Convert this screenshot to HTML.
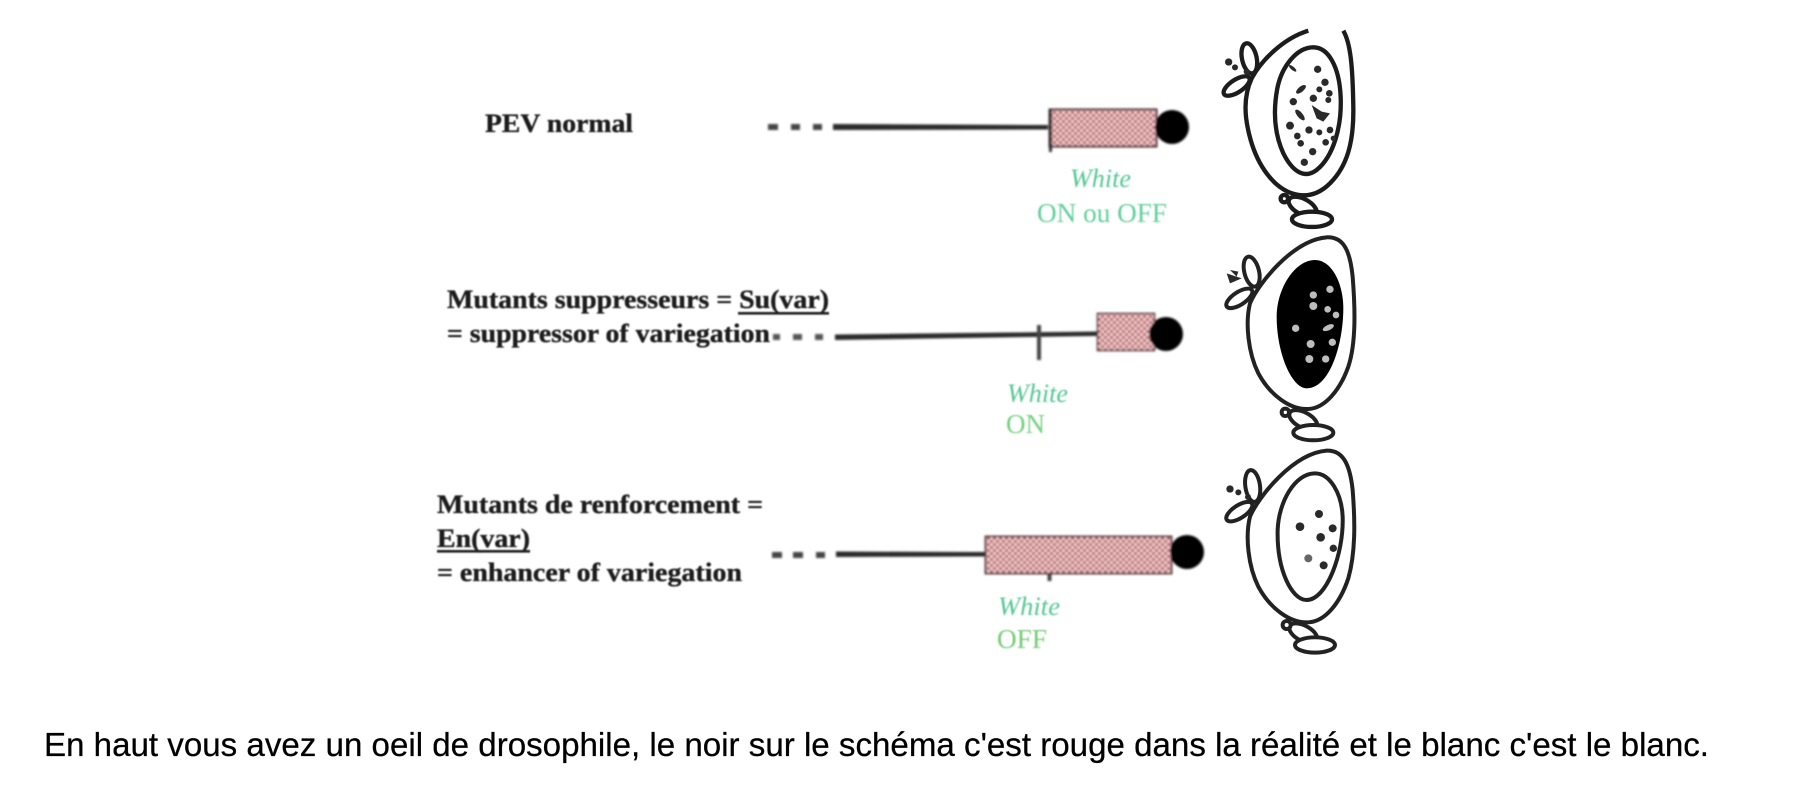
<!DOCTYPE html>
<html lang="fr">
<head>
<meta charset="utf-8">
<title>PEV</title>
<style>
html,body{margin:0;padding:0;background:#fff;width:1808px;height:790px;overflow:hidden}
svg{display:block}
.lab{font-family:"Liberation Serif",serif;font-weight:bold;font-size:26px;fill:#1c1c1c;stroke:#1c1c1c;stroke-width:.35px}
.w{font-family:"Liberation Serif",serif;font-style:italic;font-size:26px;fill:#55c795}
.st{font-family:"Liberation Serif",serif;font-size:27px}
.cap{font-family:"Liberation Sans",sans-serif;font-size:33px;fill:#000;stroke:#000;stroke-width:.25px}
</style>
</head>
<body>
<svg width="1808" height="790" viewBox="0 0 1808 790" xmlns="http://www.w3.org/2000/svg">
<defs>
<pattern id="chk" width="6" height="6" patternUnits="userSpaceOnUse">
<rect width="6" height="6" fill="#f6d6d6"/>
<rect width="3" height="3" fill="#b2555a"/>
<rect x="3" y="3" width="3" height="3" fill="#b2555a"/>
</pattern>
<filter id="b1" x="-5%" y="-5%" width="110%" height="110%"><feGaussianBlur stdDeviation="1.1"/></filter>
<filter id="b2" x="-5%" y="-20%" width="110%" height="140%"><feGaussianBlur stdDeviation="0.9"/></filter>
</defs>

<!-- Row 1 -->
<g filter="url(#b1)">
<g fill="#444"><rect x="768" y="124" width="10" height="6"/><rect x="791" y="124" width="9" height="6"/><rect x="813" y="124" width="9" height="6"/></g>
<path d="M833 124L1048 125V129.500L833 130Z" fill="#2c2c2c"/>
<rect x="1049.500" y="109.500" width="107" height="37" fill="url(#chk)" stroke="#4a2c2e" stroke-width="2"/>
<rect x="1049" y="109" width="3" height="43" fill="#333"/>
<circle cx="1172" cy="127" r="17" fill="#000"/>
</g>

<!-- Row 2 -->
<g filter="url(#b1)">
<g fill="#555"><rect x="773" y="334" width="7" height="6"/><rect x="793" y="334" width="9" height="6"/><rect x="815" y="334" width="8" height="6"/></g>
<path d="M835 334.500L1097 331.500V336L835 340Z" fill="#2c2c2c"/>
<rect x="1037" y="325" width="4" height="35" fill="#444"/>
<rect x="1097.500" y="313.500" width="57" height="37" fill="url(#chk)" stroke="#5a3a3c" stroke-width="1.600"/>
<circle cx="1166" cy="334" r="17" fill="#000"/>
</g>

<!-- Row 3 -->
<g filter="url(#b1)">
<g fill="#444"><rect x="772" y="552" width="10" height="6"/><rect x="793" y="552" width="10" height="6"/><rect x="816" y="552" width="9" height="6"/></g>
<path d="M836 551.500L985 552V556.500L836 557Z" fill="#2c2c2c"/>
<rect x="1047.500" y="573" width="4" height="8" fill="#444"/>
<rect x="985.500" y="536.500" width="186" height="37" fill="url(#chk)" stroke="#4a2c2e" stroke-width="1.800"/>
<circle cx="1187" cy="552" r="17" fill="#000"/>
</g>

<!-- Left labels -->
<g filter="url(#b2)">
<text class="lab" x="485" y="132" textLength="148" lengthAdjust="spacingAndGlyphs">PEV normal</text>
<text class="lab" x="447" y="308" textLength="382" lengthAdjust="spacingAndGlyphs">Mutants suppresseurs = Su(var)</text>
<rect x="738" y="312" width="91" height="2.600" fill="#1c1c1c"/>
<text class="lab" x="447" y="342" textLength="323" lengthAdjust="spacingAndGlyphs">= suppressor of variegation</text>
<text class="lab" x="437" y="513" textLength="326" lengthAdjust="spacingAndGlyphs">Mutants de renforcement =</text>
<text class="lab" x="437" y="547" textLength="93" lengthAdjust="spacingAndGlyphs">En(var)</text>
<rect x="437" y="550" width="93" height="2.600" fill="#1c1c1c"/>
<text class="lab" x="437" y="581" textLength="305" lengthAdjust="spacingAndGlyphs">= enhancer of variegation</text>
</g>

<!-- Green labels -->
<g filter="url(#b2)">
<text class="w" x="1070" y="187" textLength="61" lengthAdjust="spacingAndGlyphs">White</text>
<text class="st" x="1037" y="222" fill="#62d09c" textLength="130" lengthAdjust="spacingAndGlyphs">ON ou OFF</text>
<text class="w" x="1007" y="402" textLength="61" lengthAdjust="spacingAndGlyphs">White</text>
<text class="st" x="1006" y="433" fill="#74d180" textLength="39" lengthAdjust="spacingAndGlyphs">ON</text>
<text class="w" x="998" y="615" textLength="62" lengthAdjust="spacingAndGlyphs">White</text>
<text class="st" x="997" y="648" fill="#74cc76" textLength="50" lengthAdjust="spacingAndGlyphs">OFF</text>
</g>

<!-- Eye 1 -->
<g transform="translate(1180 10) scale(.3333)" filter="url(#b1)">
<g fill="none" stroke="#1e1e1e" stroke-width="13">
<path d="M490 62C512 100 518 170 520 290C522 400 500 470 450 520C415 555 375 565 330 548C280 528 235 470 212 390C192 320 190 260 215 205C245 150 310 85 385 62"/>
<path d="M400 112C445 112 478 170 482 260C486 350 460 440 410 480C370 510 335 480 310 430C285 375 278 310 292 235C305 170 350 112 400 112Z"/>
<ellipse cx="208" cy="145" rx="22" ry="46" transform="rotate(-12 208 145)" fill="#fff"/>
<ellipse cx="170" cy="228" rx="45" ry="19" transform="rotate(-33 170 228)" fill="#fff"/>
<ellipse cx="368" cy="590" rx="46" ry="23" transform="rotate(28 368 590)" fill="#fff"/>
<ellipse cx="396" cy="628" rx="60" ry="23" fill="#fff"/>
<circle cx="313" cy="566" r="11" fill="#fff"/>
</g>
<g fill="#2a2a2a">
<circle cx="146" cy="156" r="11"/><circle cx="165" cy="172" r="9"/><circle cx="200" cy="185" r="9"/>
<circle cx="413" cy="178" r="11"/><circle cx="435" cy="217" r="11"/><ellipse cx="363" cy="238" rx="18" ry="8" transform="rotate(-40 363 238)"/>
<circle cx="418" cy="238" r="9"/><circle cx="448" cy="250" r="10"/><circle cx="445" cy="270" r="9"/><circle cx="400" cy="265" r="11"/>
<circle cx="340" cy="275" r="11"/><ellipse cx="360" cy="315" rx="20" ry="8" transform="rotate(50 360 315)"/>
<path d="M395 285L425 305L450 310L430 335L410 325Z"/>
<circle cx="330" cy="347" r="12"/><circle cx="387" cy="360" r="11"/><circle cx="418" cy="367" r="9"/><circle cx="450" cy="360" r="10"/>
<circle cx="352" cy="378" r="10"/><circle cx="362" cy="400" r="10"/><circle cx="437" cy="397" r="10"/><circle cx="460" cy="385" r="8"/>
<circle cx="398" cy="425" r="11"/><circle cx="373" cy="457" r="11"/><ellipse cx="338" cy="175" rx="14" ry="5" transform="rotate(40 338 175)"/>
</g>
</g>

<!-- Eye 2 -->
<g transform="translate(1180 220) scale(.3333)" filter="url(#b1)">
<g fill="none" stroke="#222" stroke-width="12">
<path d="M440 52C490 50 510 90 518 170C526 270 528 370 505 440C480 510 435 565 385 567C330 570 270 525 235 460C205 400 195 310 210 250C235 190 340 60 440 52Z"/>
<ellipse cx="215" cy="155" rx="22" ry="46" transform="rotate(-14 215 155)" fill="#fff"/>
<ellipse cx="178" cy="235" rx="45" ry="19" transform="rotate(-33 178 235)" fill="#fff"/>
<ellipse cx="370" cy="600" rx="46" ry="23" transform="rotate(28 370 600)" fill="#fff"/>
<ellipse cx="400" cy="638" rx="60" ry="23" fill="#fff"/>
<circle cx="316" cy="577" r="11" fill="#fff"/>
</g>
<path d="M405 120C455 120 490 190 490 265C490 370 450 505 380 505C335 505 290 400 290 290C290 205 345 120 405 120Z" fill="#000"/>
<g fill="#bdbdbd">
<circle cx="450" cy="208" r="11"/><circle cx="400" cy="225" r="11"/><circle cx="400" cy="258" r="12"/><circle cx="443" cy="268" r="10"/>
<circle cx="468" cy="285" r="10"/><ellipse cx="445" cy="323" rx="18" ry="8" transform="rotate(-25 445 323)"/><circle cx="347" cy="325" r="11"/>
<circle cx="392" cy="372" r="12"/><circle cx="457" cy="367" r="11"/><circle cx="388" cy="417" r="12"/><circle cx="437" cy="417" r="11"/>
</g>
<g fill="#2a2a2a"><path d="M140 160L185 175L150 190ZM150 150L170 170L175 155Z"/></g>
</g>

<!-- Eye 3 -->
<g transform="translate(1180 430) scale(.3333)" filter="url(#b1)">
<g fill="none" stroke="#222" stroke-width="12">
<path d="M440 62C490 60 510 105 518 180C526 280 526 370 505 445C480 520 435 575 385 577C330 580 270 535 235 470C205 410 195 320 210 260C235 200 340 70 440 62Z"/>
<path d="M405 130C450 130 485 190 488 260C492 370 440 510 380 510C335 510 290 420 293 300C296 215 345 130 405 130Z"/>
<ellipse cx="218" cy="168" rx="22" ry="48" transform="rotate(-8 218 168)" fill="#fff"/>
<ellipse cx="178" cy="245" rx="45" ry="19" transform="rotate(-33 178 245)" fill="#fff"/>
<ellipse cx="370" cy="610" rx="46" ry="23" transform="rotate(28 370 610)" fill="#fff"/>
<ellipse cx="405" cy="645" rx="60" ry="23" fill="#fff"/>
<circle cx="320" cy="585" r="12" fill="#fff"/>
</g>
<g fill="#2a2a2a">
<circle cx="150" cy="177" r="11"/><circle cx="175" cy="187" r="9"/><circle cx="204" cy="201" r="9"/>
<circle cx="417" cy="252" r="12"/><circle cx="360" cy="290" r="13"/><circle cx="458" cy="295" r="12"/><circle cx="422" cy="322" r="13"/>
<circle cx="460" cy="355" r="11"/><circle cx="385" cy="385" r="12" fill="#666"/><circle cx="431" cy="406" r="12"/>
</g>
</g>

<!-- Caption -->
<text class="cap" x="44" y="756" textLength="1665" lengthAdjust="spacingAndGlyphs">En haut vous avez un oeil de drosophile, le noir sur le schéma c'est rouge dans la réalité et le blanc c'est le blanc.</text>
</svg>
</body>
</html>
